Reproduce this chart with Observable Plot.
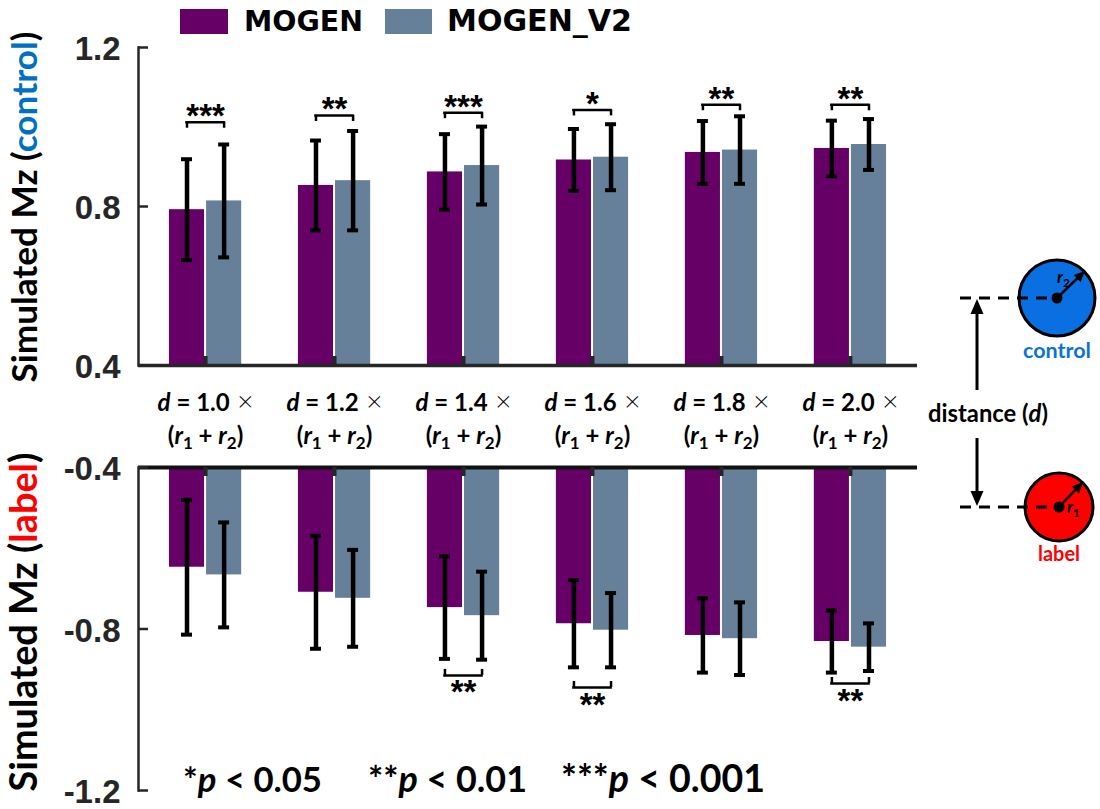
<!DOCTYPE html>
<html><head><meta charset="utf-8">
<script src="https://cdn.jsdelivr.net/npm/d3@7"></script>
<script src="https://cdn.jsdelivr.net/npm/@observablehq/plot@0.6"></script>
<style>
body{margin:0;background:#fff;}
#wrap{position:relative;width:1100px;height:809px;overflow:hidden;background:#fff;}
#wrap svg{position:absolute;left:0;}
</style></head><body><div id="wrap"></div>
<script>
// ---------- data ----------
const categories = ["1.0","1.2","1.4","1.6","1.8","2.0"];
const seriesNames = ["MOGEN","MOGEN_V2"];
const controlMogen   = [0.792,0.853,0.887,0.917,0.936,0.946];
const controlMogenSD = [0.127,0.113,0.095,0.078,0.079,0.070];
const controlV2      = [0.814,0.865,0.903,0.924,0.942,0.956];
const controlV2SD    = [0.142,0.125,0.098,0.083,0.085,0.064];
const labelMogen     = [-0.647,-0.709,-0.747,-0.787,-0.816,-0.831];
const labelMogenSD   = [0.167,0.140,0.127,0.108,0.092,0.077];
const labelV2        = [-0.666,-0.724,-0.767,-0.803,-0.824,-0.845];
const labelV2SD      = [0.130,0.120,0.109,0.092,0.090,0.059];
const controlSig  = ["***","**","***","*","**","**"];
const controlSigY = [1.012,1.029,1.036,1.043,1.056,1.056];
const labelSig    = ["","","**","**","","**"];
const labelSigY   = [null,null,-0.915,-0.945,null,-0.935];
const yTicksControl = [0.4,0.8,1.2];
const yTicksLabel   = [-0.4,-0.8,-1.2];
const colors = ["#660066","#668099"];

// ---------- layout ----------
const NS = "http://www.w3.org/2000/svg";
const wrap = document.getElementById("wrap");
const X0 = 138, X1 = 917, W = 930;
const PI = 0.44, PO = 0.24;
const bw = d3.scaleBand().domain(categories).range([X0, X1]).paddingInner(PI).paddingOuter(PO).bandwidth();
const off = bw / 4 + 0.5;
const frameW = X1 - X0;
const CAL = "Lato, 'Open Sans', sans-serif";
const ARI = "'Liberation Sans', Arial, sans-serif";

function makeRows(v1, s1, v2, s2) {
  return categories.flatMap((c, i) => [
    {cat: c, series: seriesNames[0], value: v1[i], sd: s1[i]},
    {cat: c, series: seriesNames[1], value: v2[i], sd: s2[i]}
  ]);
}

function panel({data, sig, sigY, yDomain, yTicks, base, height, mTop, mBottom, upward, extra = []}) {
  const plotH = height - mTop - mBottom;
  const marks = [];
  seriesNames.forEach((s, k) => {
    const d = data.filter(r => r.series === s);
    marks.push(Plot.barY(d, {x: "cat", y1: base, y2: "value", fill: colors[k],
      insetLeft: k ? bw / 2 + 1 : 0, insetRight: k ? 0 : bw / 2 + 1}));
  });
  // axis lines & ticks
  marks.push(Plot.frame({anchor: "left", stroke: "#262626", strokeWidth: 2.5}));
  marks.push(Plot.ruleY([base], {stroke: upward ? "#111" : "#262626", strokeWidth: upward ? 4 : 3.5}));
  marks.push(Plot.tickY(yTicks, {y: d => d, insetRight: frameW - 10, stroke: "#262626", strokeWidth: 2.5}));
  marks.push(Plot.ruleX(categories, {x: d => d,
    insetTop: upward ? 0 : plotH - 9, insetBottom: upward ? plotH - 9 : 0, stroke: "#262626", strokeWidth: 4}));
  marks.push(Plot.text(yTicks, {y: d => d, text: d => d.toFixed(1), frameAnchor: "left", textAnchor: "end",
    dx: -18, dy: 2, fontSize: 33, fontWeight: "bold", fontFamily: ARI, fill: "#262626"}));
  // error bars
  seriesNames.forEach((s, k) => {
    const d = data.filter(r => r.series === s);
    const sign = k ? 1 : -1;
    marks.push(Plot.ruleX(d, {x: "cat", y1: r => r.value - r.sd, y2: r => r.value + r.sd, dx: sign * off,
      stroke: "black", strokeWidth: 4.5}));
    for (const f of [r => r.value - r.sd, r => r.value + r.sd]) {
      marks.push(Plot.tickY(d, {x: "cat", y: f, insetLeft: bw / 2 + sign * off - 5.5,
        insetRight: bw / 2 - sign * off - 5.5, stroke: "black", strokeWidth: 4}));
    }
  });
  // significance brackets
  const sigRows = categories.map((c, i) => ({cat: c, stars: sig[i], y: sigY[i]})).filter(r => r.stars);
  marks.push(Plot.tickY(sigRows, {x: "cat", y: "y", insetLeft: bw / 2 - off - 1.25, insetRight: bw / 2 - off - 1.25,
    stroke: "black", strokeWidth: 2.5}));
  for (const sign of [-1, 1]) {
    marks.push(Plot.ruleX(sigRows, {x: "cat", y1: "y", y2: "y", dx: sign * off,
      insetBottom: upward ? 0 : -6, insetTop: upward ? -6 : 0, stroke: "black", strokeWidth: 2.5}));
  }
  marks.push(Plot.text(sigRows, {x: "cat", y: "y", text: "stars", lineAnchor: "bottom",
    dy: upward ? 28 : 5, fontSize: 33, fontWeight: "bold", fontFamily: ARI, fill: "black",
    style: "letter-spacing:2px"}));
  marks.push(...extra);
  return Plot.plot({
    width: W, height, marginTop: mTop, marginBottom: mBottom, marginLeft: X0, marginRight: W - X1,
    x: {domain: categories, range: [X0, X1], paddingInner: PI, paddingOuter: PO, round: false, axis: null},
    y: {domain: yDomain, axis: null},
    style: {background: "transparent", overflow: "visible"},
    marks
  });
}

const catLabels = [
  Plot.text(categories, {x: d => d, text: d => `d = ${d}×`, frameAnchor: "bottom", lineAnchor: "bottom",
    dy: 45, fontSize: 24, fontWeight: "bold", fontFamily: CAL, fill: "black"}),
  Plot.text(categories, {x: d => d, text: () => "(r1 + r2)", frameAnchor: "bottom", lineAnchor: "bottom",
    dy: 78, fontSize: 24, fontWeight: "bold", fontFamily: CAL, fill: "black"})
];

const topSvg = panel({data: makeRows(controlMogen, controlMogenSD, controlV2, controlV2SD),
  sig: controlSig, sigY: controlSigY, yDomain: [0.4, 1.2], yTicks: yTicksControl, base: 0.4,
  height: 460, mTop: 47, mBottom: 95, upward: false, extra: catLabels});
topSvg.style.top = "0px";
wrap.appendChild(topSvg);

const botSvg = panel({data: makeRows(labelMogen, labelMogenSD, labelV2, labelV2SD),
  sig: labelSig, sigY: labelSigY, yDomain: [-1.2, -0.4], yTicks: yTicksLabel, base: -0.4,
  height: 369, mTop: 27, mBottom: 19, upward: true});
botSvg.style.top = "440px";
wrap.appendChild(botSvg);

// ---------- rich text helpers ----------
function mk(tag, attrs, parent, text) {
  const e = document.createElementNS(NS, tag);
  for (const [k, v] of Object.entries(attrs || {})) e.setAttribute(k, v);
  if (text != null) e.textContent = text;
  if (parent) parent.appendChild(e);
  return e;
}
function fill(textEl, parts) {
  textEl.textContent = "";
  for (const p of parts) {
    const a = {};
    if (p.i) a["font-style"] = "italic";
    if (p.dy) a.dy = p.dy;
    if (p.fs) a["font-size"] = p.fs;
    if (p.fw) a["font-weight"] = p.fw;
    if (p.c) a.fill = p.c;
    mk("tspan", a, textEl, p.t);
  }
}
function fit(textEl, target) {
  const fs = parseFloat(textEl.getAttribute("font-size"));
  const w = textEl.getComputedTextLength();
  if (w > 0) textEl.setAttribute("font-size", (fs * target / w).toFixed(2));
}

// category labels with italics / subscripts
topSvg.querySelectorAll("text").forEach(t => {
  const s = t.textContent;
  if (s.startsWith("d = ")) {
    const v = s.replace("d = ", "").replace("×", "");
    fill(t, [{t: "d", i: 1}, {t: " = " + v}, {t: " ×", fw: "300", fs: "28"}]);
  } else if (s === "(r1 + r2)") {
    fill(t, [{t: "("}, {t: "r", i: 1}, {t: "1", dy: "5", fs: "17"}, {t: " + ", dy: "-5"},
             {t: "r", i: 1}, {t: "2", dy: "5", fs: "17"}, {t: ")", dy: "-5"}]);
  }
});

// ---------- overlay: titles, legend, note, schematic ----------
const ov = mk("svg", {width: 1100, height: 809, viewBox: "0 0 1100 809"}, wrap);
ov.style.top = "0px"; ov.style.pointerEvents = "none";

// legend
const LEG = "'DejaVu Sans', sans-serif";
mk("rect", {x: 180, y: 9, width: 48, height: 25, fill: colors[0]}, ov);
mk("rect", {x: 385, y: 9, width: 47, height: 25, fill: colors[1]}, ov);
const lg1 = mk("text", {x: 244, y: 31, "font-size": 26, "font-weight": "bold", "font-family": LEG}, ov, seriesNames[0]);
const lg2 = mk("text", {x: 447, y: 31, "font-size": 26, "font-weight": "bold", "font-family": LEG}, ov, seriesNames[1]);
fit(lg1, 119); fit(lg2, 185);

// y titles
const t1 = mk("text", {transform: "translate(37,207) rotate(-90)", "text-anchor": "middle", "font-size": 28,
  "font-weight": "bold", "font-family": CAL}, ov);
fill(t1, [{t: "Simulated Mz ("}, {t: "control", c: "#0070c0"}, {t: ")"}]);
fit(t1, 351);
const t2 = mk("text", {transform: "translate(37,622) rotate(-90)", "text-anchor": "middle", "font-size": 28,
  "font-weight": "bold", "font-family": CAL}, ov);
fill(t2, [{t: "Simulated Mz ("}, {t: "label", c: "#ff0000"}, {t: ")"}]);
fit(t2, 339);

// p-value note
const notes = [["*", "0.05", 183, 139], ["**", "0.01", 368, 159], ["***", "0.001", 561, 204]];
for (const [s, v, x, w] of notes) {
  const t = mk("text", {x, y: 792, "font-size": 30, "font-weight": "bold", "font-family": CAL}, ov);
  fill(t, [{t: s}, {t: "p", i: 1}, {t: " < " + v}]);
  fit(t, w);
}

// schematic
const g = mk("g", {}, ov);
mk("circle", {cx: 1057, cy: 298, r: 38, fill: "#0a6fe0", stroke: "#000", "stroke-width": 3}, g);
mk("circle", {cx: 1059, cy: 507, r: 34, fill: "#ff0000", stroke: "#000", "stroke-width": 3}, g);
mk("line", {x1: 960, y1: 298, x2: 1057, y2: 298, stroke: "#000", "stroke-width": 3, "stroke-dasharray": "11 8"}, g);
mk("line", {x1: 960, y1: 507, x2: 1059, y2: 507, stroke: "#000", "stroke-width": 3, "stroke-dasharray": "11 8"}, g);
mk("circle", {cx: 1057, cy: 298, r: 5.5, fill: "#000"}, g);
mk("circle", {cx: 1059, cy: 507, r: 5.5, fill: "#000"}, g);
function arrow(x1, y1, x2, y2, head, half, sw) {
  const dx = x2 - x1, dy = y2 - y1, L = Math.hypot(dx, dy), ux = dx / L, uy = dy / L;
  const bx = x2 - ux * head, by = y2 - uy * head;
  mk("line", {x1, y1, x2: bx + ux, y2: by + uy, stroke: "#000", "stroke-width": sw}, g);
  mk("polygon", {points: `${x2},${y2} ${bx - uy * half},${by + ux * half} ${bx + uy * half},${by - ux * half}`, fill: "#000"}, g);
}
arrow(1057, 298, 1085, 271, 11, 5, 2.5);
arrow(1059, 507, 1083, 482, 11, 5, 2.5);
arrow(977, 390, 977, 299, 15, 6.5, 3);
arrow(977, 438, 977, 506, 15, 6.5, 3);
const r2 = mk("text", {x: 1057, y: 283, "font-size": 17, "font-family": CAL, "font-weight": "bold"}, g);
fill(r2, [{t: "r", i: 1}, {t: "2", dy: "4", fs: "12"}]);
const r1 = mk("text", {x: 1067, y: 513, "font-size": 17, "font-family": CAL, "font-weight": "bold"}, g);
fill(r1, [{t: "r", i: 1}, {t: "1", dy: "4", fs: "12"}]);
const ctl = mk("text", {x: 1057, y: 358, "text-anchor": "middle", "font-size": 19, "font-weight": "bold",
  "font-family": CAL, fill: "#0a72d8"}, g, "control");
fit(ctl, 68);
const lbl = mk("text", {x: 1059, y: 561, "text-anchor": "middle", "font-size": 19, "font-weight": "bold",
  "font-family": CAL, fill: "#ff0000"}, g, "label");
fit(lbl, 42);
const dst = mk("text", {x: 988, y: 422, "text-anchor": "middle", "font-size": 20, "font-weight": "bold",
  "font-family": CAL}, g);
fill(dst, [{t: "distance ("}, {t: "d", i: 1}, {t: ")"}]);
fit(dst, 120);
</script></body></html>
